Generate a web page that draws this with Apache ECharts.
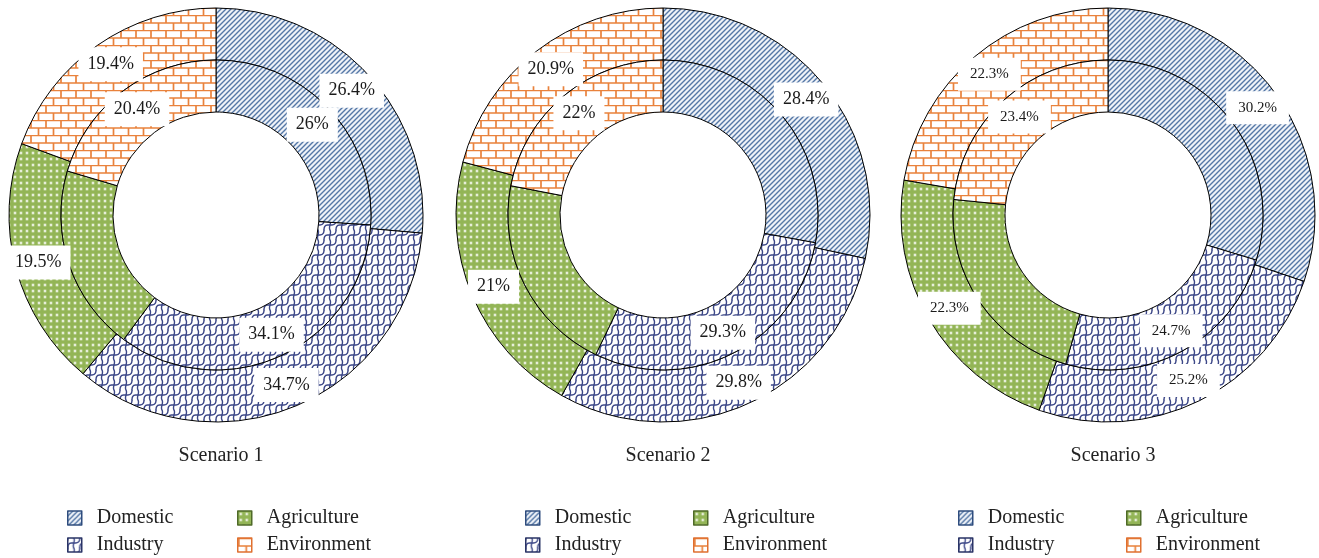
<!DOCTYPE html>
<html>
<head>
<meta charset="utf-8">
<script src="https://cdn.jsdelivr.net/npm/echarts@6/dist/echarts.min.js"></script>
<style>
  html, body { margin: 0; padding: 0; background: #fff; }
  #chart { width: 1319px; height: 558px; }
</style>
</head>
<body>
<div id="chart"></div>
<script>
// Water allocation shares by sector, three scenarios (outer ring / inner ring)
const sectors = ['Domestic', 'Industry', 'Agriculture', 'Environment'];
const scenarios = ['Scenario 1', 'Scenario 2', 'Scenario 3'];

const outerS1 = [26.4, 34.7, 19.5, 19.4];
const innerS1 = [26, 34.1, 19.4, 20.4];
const outerS2 = [28.4, 29.8, 21, 20.9];
const innerS2 = [27.9, 29.3, 20.9, 22];
const outerS3 = [30.2, 25.2, 22.3, 22.3];
const innerS3 = [29.7, 24.7, 22.2, 23.4];

const SERIF = '"Liberation Serif", "Times New Roman", serif';

// ---- fill patterns ----
function tile(w, h, draw) {
  const c = document.createElement('canvas');
  c.width = w; c.height = h;
  const ctx = c.getContext('2d');
  draw(ctx, w, h);
  return { image: c, repeat: 'repeat' };
}

const patDomestic = tile(5, 5, (ctx, w, h) => {
  ctx.fillStyle = '#eef2f8';
  ctx.fillRect(0, 0, w, h);
  ctx.strokeStyle = '#5477a6';
  ctx.lineWidth = 1.4;
  ctx.beginPath();
  ctx.moveTo(-1, h + 1); ctx.lineTo(w + 1, -1);
  ctx.moveTo(-1, 1); ctx.lineTo(1, -1);
  ctx.moveTo(w - 1, h + 1); ctx.lineTo(w + 1, h - 1);
  ctx.stroke();
});

const patIndustry = tile(12, 10, (ctx, w, h) => {
  ctx.fillStyle = '#ffffff';
  ctx.fillRect(0, 0, w, h);
  ctx.strokeStyle = '#3d4888';
  ctx.lineWidth = 1.4;
  ctx.lineJoin = 'round';
  ctx.lineCap = 'round';
  // rounded stair steps climbing to the right
  const stair = (dx, dy) => {
    ctx.beginPath();
    ctx.moveTo(0 + dx, 10 + dy);
    ctx.quadraticCurveTo(0 + dx, 5 + dy, 3.5 + dx, 5 + dy);
    ctx.lineTo(8 + dx, 5 + dy);
    ctx.quadraticCurveTo(12 + dx, 5 + dy, 12 + dx, 0 + dy);
    ctx.stroke();
  };
  stair(0, 0); stair(-12, 0); stair(12, 0); stair(0, -10); stair(0, 10);
  // wavy risers that split the rows into cells
  ctx.beginPath();
  ctx.moveTo(6, 0);
  ctx.bezierCurveTo(8, 3, 4, 7, 6, 10);
  ctx.stroke();
});

const patAgriculture = tile(6, 6, (ctx, w, h) => {
  ctx.fillStyle = '#93b556';
  ctx.fillRect(0, 0, w, h);
  ctx.fillStyle = 'rgba(255,255,255,0.3)';
  ctx.beginPath(); ctx.arc(3, 3, 1.9, 0, Math.PI * 2); ctx.fill();
  ctx.fillStyle = '#ffffff';
  ctx.beginPath(); ctx.arc(3, 3, 0.9, 0, Math.PI * 2); ctx.fill();
});

const patEnvironment = tile(15, 15, (ctx, w, h) => {
  ctx.fillStyle = '#ffffff';
  ctx.fillRect(0, 0, w, h);
  ctx.strokeStyle = '#e9823c';
  ctx.lineWidth = 1.7;
  ctx.beginPath();
  ctx.moveTo(0, 0.5); ctx.lineTo(w, 0.5);
  ctx.moveTo(0, 8); ctx.lineTo(w, 8);
  ctx.moveTo(1, 0); ctx.lineTo(1, 8);
  ctx.moveTo(8.5, 8); ctx.lineTo(8.5, 15);
  ctx.stroke();
});

const fills = [patDomestic, patIndustry, patAgriculture, patEnvironment];
const edgeColors = ['#2f4d7e', '#2a3466', '#4f6a28', '#e07030'];

// ---- layout ----
const centers = [[216, 215], [663, 215], [1108, 215]];
const rings = [[outerS1, innerS1], [outerS2, innerS2], [outerS3, innerS3]];
const labelSizes = [18, 18, 15];
const labelPads = [[8, 9], [8, 9], [9, 12]];
// legend grid: columns (icon left edge) per scenario, rows (icon top)
const legendCols = [[67, 237], [525, 693], [958, 1126]];
const legendRows = [508, 535];
const legendSlots = [[0, 0], [0, 1], [1, 0], [1, 1]]; // [col, row] for each sector

function pieSeries(values, center, radius, k) {
  return {
    type: 'pie',
    center: center,
    radius: radius,
    startAngle: 90,
    clockwise: true,
    silent: true,
    animation: false,
    avoidLabelOverlap: false,
    emphasis: { disabled: true },
    itemStyle: { borderColor: '#000', borderWidth: 1 },
    label: {
      show: true,
      position: 'inside',
      formatter: '{c}%',
      fontFamily: SERIF,
      fontSize: labelSizes[k],
      color: '#1a1a1a',
      backgroundColor: '#ffffff',
      padding: labelPads[k]
    },
    labelLine: { show: false },
    data: sectors.map((name, i) => ({
      name: name,
      value: values[i],
      itemStyle: { color: fills[i] }
    }))
  };
}

const series = [];
const titles = [];
const legends = [];
rings.forEach((pair, k) => {
  series.push(pieSeries(pair[0], centers[k], [155, 207], k));
  series.push(pieSeries(pair[1], centers[k], [103, 155], k));
  titles.push({
    text: scenarios[k],
    left: centers[k][0],
    top: 441,
    textAlign: 'center',
    textStyle: { fontFamily: SERIF, fontSize: 20, fontWeight: 'normal', color: '#222' }
  });
  sectors.forEach((name, i) => {
    const slot = legendSlots[i];
    legends.push({
      left: legendCols[k][slot[0]],
      top: legendRows[slot[1]],
      padding: 0,
      itemWidth: 14,
      itemHeight: 14,
      selectedMode: false,
      textStyle: { fontFamily: SERIF, fontSize: 20, color: '#222', padding: [0, 0, 0, 10] },
      data: [{
        name: name,
        icon: 'rect',
        itemStyle: { color: fills[i], borderColor: edgeColors[i], borderWidth: 1.5 }
      }]
    });
  });
});

const chart = echarts.init(document.getElementById('chart'), null, { renderer: 'canvas' });
chart.setOption({
  backgroundColor: '#ffffff',
  animation: false,
  title: titles,
  legend: legends,
  series: series
});
</script>
</body>
</html>
